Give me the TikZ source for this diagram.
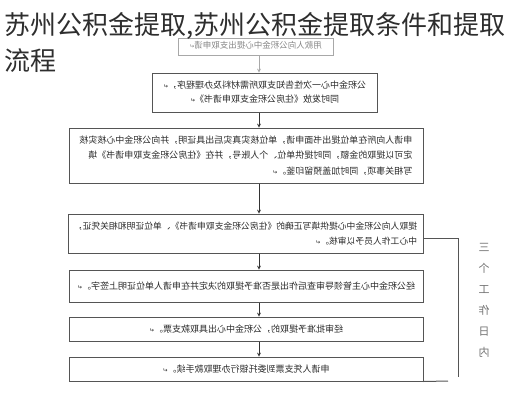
\documentclass[tikz,border=0pt]{standalone}
\usepackage{fontspec}
\setmainfont{Noto Sans CJK SC}
\newfontfamily\symfont{DejaVu Sans}
\usepackage{graphicx}
\usetikzlibrary{calc, positioning}

\definecolor{boxline}{HTML}{555555}
\definecolor{boxtext}{HTML}{2A2A2A}
\definecolor{faint}{HTML}{A8A8A8}
\definecolor{titlecol}{HTML}{2E2E2E}

\newcommand{\pmark}{{\symfont\fontsize{6}{6}\selectfont ↵}}
\newcommand{\mirbox}[2]{\reflectbox{\begin{tabular}{@{}#1@{}}#2\end{tabular}}}

\begin{document}
\begin{tikzpicture}[>=stealth, x=1pt, y=-1pt,
    stepbox/.style={draw=boxline, line width=1pt, inner sep=0pt, text=boxtext, font=\fontsize{9}{15}\selectfont},
    flow/.style={->, draw=black!80, line width=0.7pt}]

            \useasboundingbox (0,0) rectangle (512,400);

            \node[stepbox, draw=faint, text=faint!80!black, minimum width=155pt, minimum height=17pt, font=\fontsize{8.5}{12}\selectfont] (b1) at (255.5,46.5) {\mirbox{c}{用款人向公积金中心提出支取申请\pmark}};
            \node[stepbox, minimum width=225pt, minimum height=39pt, font=\fontsize{9}{14}\selectfont] (b2) at (264.5,92.5) {\mirbox{c}{公积金中心一次性告知支取所需材料及办理程序，\pmark\\同时发放《住房公积金支取申请书》\pmark}};
            \node[stepbox, minimum width=354pt, minimum height=55pt, font=\fontsize{9}{15.5}\selectfont] (b3) at (246,155.5) {\mirbox{l}{申请人向所在单位提出书面申请，单位核实真实后出具证明，并向公积金中心核实核\\定可以提取的金额，同时提供单位、个人账号，并在《住房公积金支取申请书》填\\写相关事项，同时加盖预留印鉴。\pmark}};
            \node[stepbox, minimum width=355pt, minimum height=39pt, font=\fontsize{8.8}{15}\selectfont] (b4) at (245.5,233.5) {\mirbox{l}{提取人向公积金中心提供填写正确的《住房公积金支取申请书》、单位证明和相关凭证，\\中心工作人员予以审核。\pmark}};
            \node[stepbox, minimum width=354pt, minimum height=32pt] (b5) at (246,286) {\mirbox{l}{经公积金中心主管领导审查后作出是否准予提取的决定并在申请人单位证明上签字。\pmark}};
            \node[stepbox, minimum width=354pt, minimum height=24pt] (b6) at (246,329) {\mirbox{c}{经审批准予提取的，公积金中心出具取款支票。\pmark}};
            \node[stepbox, minimum width=354pt, minimum height=24pt] (b7) at (246,369) {\mirbox{c}{申请人凭支票到委托银行办理取款手续。\pmark}};

            \node[text=black!55, font=\fontsize{11}{21}\selectfont, align=center] (days) at (484,300) {\reflectbox{三}\\\reflectbox{个}\\\reflectbox{工}\\\reflectbox{作}\\\reflectbox{日}\\\reflectbox{内}};

            % Connections: one step to the next
            \coordinate (ax) at (259,0);
            \draw[flow, draw=faint] (b1.south -| ax) -- (b2.north -| ax);
            \draw[flow] (b2.south -| ax) -- (b3.north -| ax);
            \draw[flow] (b3.south -| ax) -- (b4.north -| ax);
            \draw[flow] (b4.south -| ax) -- (b5.north -| ax);
            \draw[flow] (b5.south -| ax) -- (b6.north -| ax);
            \draw[flow] (b6.south -| ax) -- (b7.north -| ax);

            % bracket for the working days
            \coordinate (brk) at (458,377);
            \coordinate (bend) at (448,381);
            \draw[draw=boxline, line width=1pt] ([yshift=-4.5pt]b4.east) -| (brk);
            \draw[draw=boxline, line width=1pt] (b7.south east) -- (bend);

            % title on top
            \node[anchor=base west, inner sep=0pt, text=titlecol, font=\fontsize{26}{26}\selectfont] (title1) at (4,34) {苏州公积金提取,苏州公积金提取条件和提取};
            \node[anchor=base west, inner sep=0pt, text=titlecol, font=\fontsize{26}{26}\selectfont] (title2) at (4,70) {流程};

        \end{tikzpicture}
\end{document}
